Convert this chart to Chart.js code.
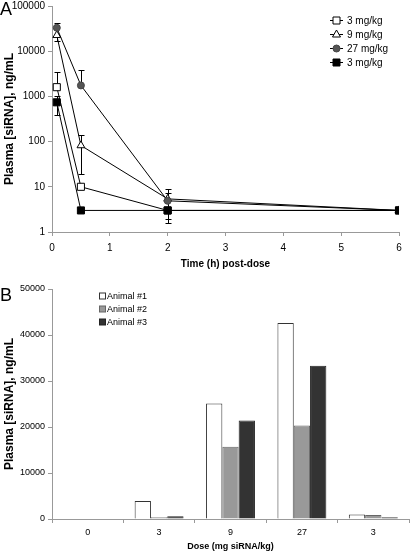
<!DOCTYPE html>
<html lang="en">
<head>
<meta charset="UTF-8">
<title>Plasma siRNA</title>
<script src="https://cdn.jsdelivr.net/npm/chart.js"></script>
<style>
  body { margin: 0; background: #fff; font-family: "Liberation Sans", Arial, sans-serif; }
  #wrap { position: relative; width: 410px; height: 552px; overflow: hidden; }
  canvas { position: absolute; left: 0; }
  .panel { position: absolute; left: 0; font-size: 18px; line-height: 18px; color: #000; }
</style>
</head>
<body>
<div id="wrap">
  <canvas id="chartA" width="410" height="273" style="top:-3px"></canvas>
  <canvas id="chartB" width="410" height="282" style="top:270px"></canvas>
  <div class="panel" style="top:0">A</div>
  <div class="panel" style="top:286px">B</div>
</div>
<script>
// panel A: plasma concentration vs time (log scale)
var times = [0.083, 0.5, 2, 6];
var seriesNamesA = ['3 mg/kg', '9 mg/kg', '27 mg/kg', '3 mg/kg'];
var conc3 = [1600, 10, 3, 3];
var conc9 = [22500, 82, 5.4, 3];
var conc27 = [33000, 1750, 4.9, 3];
var conc3b = [740, 3, 3, 3];
// error bar ends (null = none drawn)
var err3Hi = [3400, null, null, null];
var err3Lo = [null, null, null, null];
var err9Hi = [null, 140, 7.2, null];
var err9Lo = [16800, 19.5, 1.93, null];
var err27Hi = [43000, 3870, 9.1, null];
var err27Lo = [null, null, 1.55, null];
var err3bHi = [1000, null, null, null];
var err3bLo = [390, null, null, null];
var yTicksA = [1, 10, 100, 1000, 10000, 100000];

// panel B: per-animal concentration by dose
var doseLabels = ['0', '3', '9', '27', '3'];
var animalNames = ['Animal #1', 'Animal #2', 'Animal #3'];
var animal1 = [0, 3900, 25100, 42600, 1000];
var animal2 = [0, 400, 15700, 20300, 870];
var animal3 = [0, 600, 21400, 33300, 400];

var FONT = '"Liberation Sans", Arial, sans-serif';
Chart.defaults.font.family = FONT;
Chart.defaults.color = '#000';

function pts(ys) {
  return times.map(function (t, i) { return { x: t, y: ys[i] }; });
}

var errorBars = {
  id: 'errorBars',
  beforeDatasetsDraw: function (chart) {
    var ctx = chart.ctx, xs = chart.scales.x, ys = chart.scales.y;
    ctx.save();
    ctx.strokeStyle = '#000';
    ctx.lineWidth = 1;
    chart.data.datasets.forEach(function (ds) {
      if (!ds.errHi) return;
      ds.data.forEach(function (p, i) {
        var x = Math.round(xs.getPixelForValue(p.x)) + 0.5;
        var yv = ys.getPixelForValue(p.y);
        [ds.errHi[i], ds.errLo[i]].forEach(function (e) {
          if (e == null) return;
          var ye = Math.round(ys.getPixelForValue(e)) + 0.5;
          ctx.beginPath();
          ctx.moveTo(x, yv);
          ctx.lineTo(x, ye);
          ctx.moveTo(x - 3, ye);
          ctx.lineTo(x + 3, ye);
          ctx.stroke();
        });
      });
    });
    ctx.restore();
  }
};

function drawMarker(ctx, style, x, y, fill) {
  ctx.beginPath();
  if (style === 'rect') {
    ctx.rect(x - 3.5, y - 3.5, 7, 7);
  } else if (style === 'triangle') {
    ctx.moveTo(x, y - 4.5);
    ctx.lineTo(x + 4, y + 2.5);
    ctx.lineTo(x - 4, y + 2.5);
    ctx.closePath();
  } else {
    ctx.arc(x, y, 3.5, 0, Math.PI * 2);
  }
  ctx.fillStyle = fill;
  ctx.fill();
  ctx.stroke();
}

var legendA = {
  id: 'legendA',
  afterDraw: function (chart) {
    var ctx = chart.ctx;
    ctx.save();
    ctx.font = '10px ' + FONT;
    ctx.textBaseline = 'middle';
    ctx.lineWidth = 1;
    ctx.strokeStyle = '#000';
    seriesNamesA.forEach(function (name, i) {
      var ds = chart.data.datasets[i];
      var y = 23 + i * 14;   // canvas is shifted up by 3px
      ctx.beginPath();
      ctx.moveTo(330, y + 0.5);
      ctx.lineTo(343, y + 0.5);
      ctx.stroke();
      ctx.strokeStyle = ds.pointBorderColor;
      drawMarker(ctx, ds.pointStyle, 336.5, y + 0.5, ds.pointBackgroundColor);
      ctx.strokeStyle = '#000';
      ctx.fillStyle = '#000';
      ctx.fillText(name, 347, y + 1);
    });
    ctx.restore();
  }
};

new Chart(document.getElementById('chartA'), {
  type: 'line',
  data: {
    datasets: [
      { label: seriesNamesA[0], data: pts(conc3), errHi: err3Hi, errLo: err3Lo, order: 3,
        pointStyle: 'rect', pointRadius: 5, pointBackgroundColor: '#fff', pointBorderColor: '#000' },
      { label: seriesNamesA[1], data: pts(conc9), errHi: err9Hi, errLo: err9Lo, order: 2,
        pointStyle: 'triangle', pointRadius: 4.5, pointBackgroundColor: '#fff', pointBorderColor: '#000' },
      { label: seriesNamesA[2], data: pts(conc27), errHi: err27Hi, errLo: err27Lo, order: 1,
        pointStyle: 'circle', pointRadius: 3.5, pointBackgroundColor: '#555', pointBorderColor: '#444' },
      { label: seriesNamesA[3], data: pts(conc3b), errHi: err3bHi, errLo: err3bLo, order: 0,
        pointStyle: 'rect', pointRadius: 5, pointBackgroundColor: '#000', pointBorderColor: '#000' }
    ].map(function (d) {
      d.borderColor = '#000';
      d.borderWidth = 1;
      d.pointBorderWidth = 1;
      d.fill = false;
      return d;
    })
  },
  options: {
    responsive: false,
    animation: false,
    layout: { padding: { top: 4, right: 11, left: 0, bottom: 0 } },
    plugins: { legend: { display: false }, tooltip: { enabled: false } },
    scales: {
      x: {
        type: 'linear', min: 0, max: 6,
        ticks: { stepSize: 1, font: { size: 10 }, padding: 6, color: '#000' },
        grid: { drawOnChartArea: false, color: '#999', tickLength: 4 },
        border: { color: '#999' },
        title: { display: true, text: 'Time (h) post-dose', font: { size: 10, weight: 'bold' }, color: '#000', padding: { top: 3, bottom: 0 } },
        afterFit: function (s) { s.height = 38; }
      },
      y: {
        type: 'logarithmic', min: 1, max: 100000,
        afterBuildTicks: function (s) { s.ticks = yTicksA.map(function (v) { return { value: v }; }); },
        ticks: { font: { size: 10 }, padding: 3, color: '#000', callback: function (v) { return String(v); } },
        grid: { drawOnChartArea: false, color: '#999', tickLength: 4 },
        border: { color: '#999' },
        title: { display: true, text: 'Plasma [siRNA], ng/mL', font: { size: 12, weight: 'bold' }, color: '#000', padding: { top: 2, bottom: 0 } },
        afterFit: function (s) { s.width = 52; }
      }
    }
  },
  plugins: [errorBars, legendA]
});

var barFills = ['#ffffff', '#999999', '#333333'];
var barBorders = ['#333333', '#666666', '#222222'];

var legendB = {
  id: 'legendB',
  afterDraw: function (chart) {
    var ctx = chart.ctx;
    ctx.save();
    ctx.font = '9px ' + FONT;
    ctx.textBaseline = 'middle';
    animalNames.forEach(function (name, i) {
      var y = 26 + i * 13;
      ctx.fillStyle = barFills[i];
      ctx.strokeStyle = barBorders[i];
      ctx.lineWidth = 1;
      ctx.fillRect(99.5, y - 3, 6, 6);
      ctx.strokeRect(99.5, y - 3, 6, 6);
      ctx.fillStyle = '#000';
      ctx.fillText(name, 107, y + 0.5);
    });
    ctx.restore();
  }
};

new Chart(document.getElementById('chartB'), {
  type: 'bar',
  data: {
    labels: doseLabels,
    datasets: [animal1, animal2, animal3].map(function (vals, i) {
      return {
        label: animalNames[i], data: vals,
        backgroundColor: barFills[i], borderColor: barBorders[i], borderWidth: 1,
        barPercentage: 1, categoryPercentage: 0.685
      };
    })
  },
  options: {
    responsive: false,
    animation: false,
    layout: { padding: { top: 19, right: 1, left: 0, bottom: 0 } },
    plugins: { legend: { display: false }, tooltip: { enabled: false } },
    scales: {
      x: {
        ticks: { font: { size: 9 }, padding: 4, color: '#000' },
        grid: { drawOnChartArea: false, color: '#999', tickLength: 4, offset: true },
        border: { color: '#999' },
        title: { display: true, text: 'Dose (mg siRNA/kg)', font: { size: 9, weight: 'bold' }, color: '#000', padding: { top: 6, bottom: 0 } },
        afterFit: function (s) { s.height = 33; }
      },
      y: {
        min: 0, max: 50000,
        ticks: { stepSize: 10000, font: { size: 9 }, padding: 3, color: '#000', callback: function (v) { return String(v); } },
        grid: { drawOnChartArea: false, color: '#999', tickLength: 4 },
        border: { color: '#999' },
        title: { display: true, text: 'Plasma [siRNA], ng/mL', font: { size: 12, weight: 'bold' }, color: '#000', padding: { top: 2, bottom: 0 } },
        afterFit: function (s) { s.width = 52; }
      }
    }
  },
  plugins: [legendB]
});
</script>
</body>
</html>
